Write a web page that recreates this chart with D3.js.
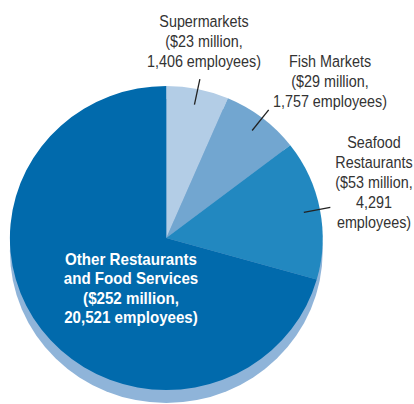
<!DOCTYPE html>
<html>
<head>
<meta charset="utf-8">
<script src="https://cdn.jsdelivr.net/npm/d3@7"></script>
<style>
  body { margin: 0; background: #fff; }
  svg { display: block; }
  .lbl { font-family: "Liberation Sans", Arial, sans-serif; font-size: 17px; fill: #333; }
  .lbl.inner { fill: #fff; font-weight: bold; }
</style>
</head>
<body>
<script>
// Data (clockwise from 12 o'clock)
const categories = ["Supermarkets", "Fish Markets", "Seafood Restaurants", "Other Restaurants and Food Services"]
const sales = [23, 29, 53, 252]          // $ million
const employees = ["1,406", "1,757", "4,291", "20,521"]
const colors = ["#b3cde6", "#72a6d0", "#2288c0", "#016aac"]

// label lines, as printed
const labelLines = [
    ["Supermarkets", "($23 million,", "1,406 employees)"],
    ["Fish Markets", "($29 million,", "1,757 employees)"],
    ["Seafood", "Restaurants", "($53 million,", "4,291", "employees)"],
    ["Other Restaurants", "and Food Services", "($252 million,", "20,521 employees)"]
]

const W = 414, H = 404
const cx = 166.3, cy = 238
const r = 156.4
const ky = 152 / 156.4   // pie is slightly squashed vertically
const shadowDy = 13

const svg = d3.select("body").append("svg")
    .attr("width", W)
    .attr("height", H)

const pie = d3.pie().sort(null).value(d => d)
const arcs = pie(sales)
const arc = d3.arc().innerRadius(0).outerRadius(r)

// shadow underneath
svg.append("ellipse")
    .attr("cx", cx)
    .attr("cy", cy + shadowDy)
    .attr("rx", r)
    .attr("ry", r * ky)
    .attr("fill", "#8fb4d9")

const g = svg.append("g")
    .attr("transform", `translate(${cx},${cy}) scale(1,${ky})`)

g.selectAll("path")
    .data(arcs)
    .enter()
    .append("path")
    .attr("d", arc)
    .attr("fill", (d, i) => colors[i])

// leader lines for the small slices
const lineIn = d3.arc().innerRadius(140).outerRadius(140)
const lineOut = d3.arc().innerRadius(167).outerRadius(167)
svg.selectAll("line.leader")
    .data(arcs.slice(0, 3))
    .enter()
    .append("line")
    .attr("class", "leader")
    .attr("x1", d => cx + lineIn.centroid(d)[0])
    .attr("y1", d => cy + lineIn.centroid(d)[1] * ky)
    .attr("x2", d => cx + lineOut.centroid(d)[0])
    .attr("y2", d => cy + lineOut.centroid(d)[1] * ky)
    .attr("stroke", "#222")
    .attr("stroke-width", 1.3)

// label anchor points (center x, first baseline)
const labelPos = [[204, 27], [330, 67], [374, 148], [131, 265]]
const lineH = [20, 20, 20, 19.5]

// condensed look: squeeze a normal sans horizontally
labelLines.forEach(function(lines, i) {
    const sx = i === 3 ? 0.89 : 0.845
    const t = svg.append("text")
        .attr("class", i === 3 ? "lbl inner" : "lbl")
        .attr("text-anchor", "middle")
        .attr("transform", `translate(${labelPos[i][0]},${labelPos[i][1]}) scale(${sx},1)`)
    lines.forEach(function(s, j) {
        t.append("tspan")
            .attr("x", 0)
            .attr("y", j * lineH[i])
            .text(s)
    })
})
</script>
</body>
</html>
